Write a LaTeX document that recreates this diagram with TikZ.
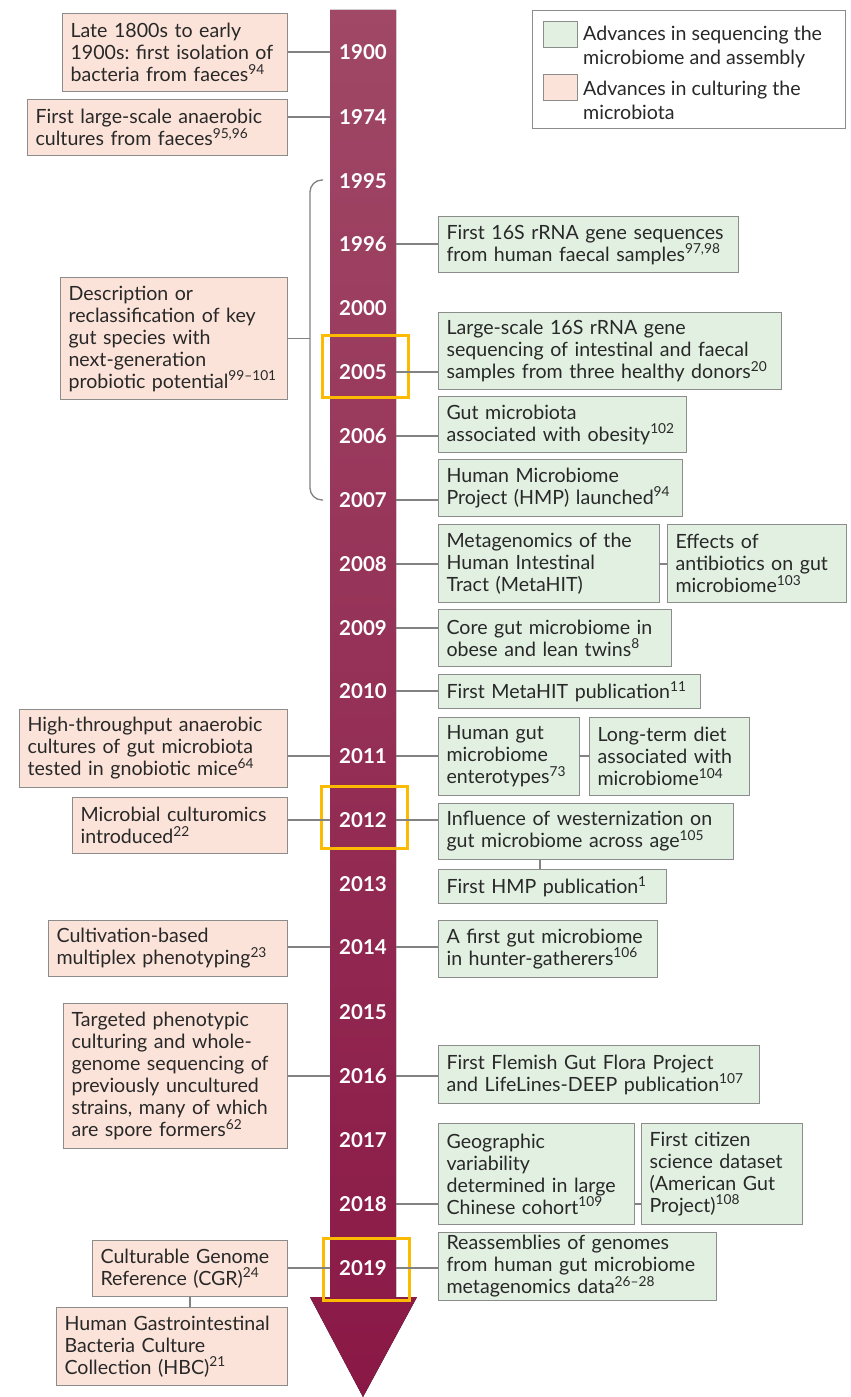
\documentclass[tikz,border=0pt]{standalone}
\usepackage{fontspec}
\setmainfont{Lato}
\frenchspacing
\definecolor{pinkc}{RGB}{252,227,217}
\definecolor{greenc}{RGB}{226,240,226}
\definecolor{bordergray}{RGB}{140,140,140}
\definecolor{linegray}{RGB}{130,130,130}
\definecolor{textc}{RGB}{40,40,40}
\definecolor{orangec}{RGB}{252,186,0}
\definecolor{shafttop}{RGB}{160,72,102}
\definecolor{shaftbot}{RGB}{138,24,70}
\newcommand{\rf}[1]{\textsuperscript{#1}}
\newcommand{\bx}[7]{\pgfmathsetmacro\bxtw{#5-16}\node[#2, minimum width=#5pt, minimum height=#6pt, text width=\bxtw pt] (#1) at (#3,#4) {#7};}
\tikzset{
  box/.style={draw=bordergray, line width=1.1pt, align=left, anchor=north west, inner xsep=8pt, inner ysep=0pt, font=\fontsize{19.6}{22}\selectfont\frenchspacing, text=textc},
  pinkbox/.style={box, fill=pinkc},
  greenbox/.style={box, fill=greenc},
  yr/.style={text=white, font=\bfseries\fontsize{20.5}{24}\selectfont, inner sep=0pt},
  conn/.style={draw=linegray, line width=1.3pt},
  hl/.style={draw=orangec, line width=3pt, minimum width=86pt, minimum height=62pt, inner sep=0pt},
  legtext/.style={anchor=west, align=left, inner sep=0pt, font=\fontsize{19.6}{24}\selectfont, text=textc},
  swatch/.style={draw=bordergray, line width=1pt, anchor=north west, minimum width=34pt, minimum height=26pt, inner sep=0pt},
}
\begin{document}
\begin{tikzpicture}[x=1pt,y=-1pt]
\useasboundingbox[fill=white] (0,0) rectangle (851,1397);
% shaft
\fill[top color=shafttop, bottom color=shaftbot] (330,10) -- (396,10) -- (396,1297) -- (417,1297) -- (363,1397) -- (310,1297) -- (330,1297) -- cycle;
\coordinate (shaftL) at (330,0);
\coordinate (shaftR) at (396,0);
\coordinate (brk) at (310,0);
% years
\node[yr] (y1900) at (363,52) {1900};
\node[yr] (y1974) at (363,117) {1974};
\node[yr] (y1995) at (363,181) {1995};
\node[yr] (y1996) at (363,244) {1996};
\node[yr] (y2000) at (363,308) {2000};
\node[yr] (y2005) at (363,372) {2005};
\node[yr] (y2006) at (363,436) {2006};
\node[yr] (y2007) at (363,500) {2007};
\node[yr] (y2008) at (363,564) {2008};
\node[yr] (y2009) at (363,628) {2009};
\node[yr] (y2010) at (363,691) {2010};
\node[yr] (y2011) at (363,756) {2011};
\node[yr] (y2012) at (363,820) {2012};
\node[yr] (y2013) at (363,884) {2013};
\node[yr] (y2014) at (363,947) {2014};
\node[yr] (y2015) at (363,1012) {2015};
\node[yr] (y2016) at (363,1076) {2016};
\node[yr] (y2017) at (363,1140) {2017};
\node[yr] (y2018) at (363,1204) {2018};
\node[yr] (y2019) at (363,1268) {2019};
% highlights
\node[hl] (h2005) at (365,366) {};
\node[hl] (h2012) at (364,817) {};
\node[hl] (h2019) at (366,1269) {};
% legend
\node[draw=bordergray, line width=1pt, anchor=north west, minimum width=313pt, minimum height=118pt, inner sep=0pt] (legend) at (532,10) {};
\node[swatch, fill=greenc] (sw1) at (543,21) {};
\node[swatch, fill=pinkc] (sw2) at (543,74) {};
\node[legtext] (lt1) at (583,47) {Advances in sequencing the\\microbiome and assembly};
\node[legtext] (lt2) at (583,100) {Advances in culturing the\\microbiota};
% left boxes
\bx{L1}{pinkbox}{62}{13}{225}{78}{Late 1800s to early\\1900s: first isolation of\\bacteria from faeces\rf{94}}
\bx{L2}{pinkbox}{27}{99}{260}{56}{First large-scale anaerobic\\cultures from faeces\rf{95,96}}
\bx{L3}{pinkbox}{60}{277}{227}{122}{Description or\\reclassification of key\\gut species with\\next-generation\\probiotic potential\rf{99–101}}
\bx{L4}{pinkbox}{19}{709}{268}{78}{High-throughput anaerobic\\cultures of gut microbiota\\tested in gnobiotic mice\rf{64}}
\bx{L5}{pinkbox}{72}{797}{215}{56}{Microbial culturomics\\introduced\rf{22}}
\bx{L6}{pinkbox}{48}{920}{239}{56}{Cultivation-based\\multiplex phenotyping\rf{23}}
\bx{L7}{pinkbox}{63}{1003}{224}{145}{Targeted phenotypic\\culturing and whole-\\genome sequencing of\\previously uncultured\\strains, many of which\\are spore formers\rf{62}}
\bx{L8}{pinkbox}{92}{1240}{195}{56}{Culturable Genome\\Reference (CGR)\rf{24}}
\bx{L9}{pinkbox}{56}{1307}{231}{78}{Human Gastrointestinal\\Bacteria Culture\\Collection (HBC)\rf{21}}
% right boxes
\bx{R1}{greenbox}{438}{216}{300}{56}{First 16S rRNA gene sequences\\from human faecal samples\rf{97,98}}
\bx{R2}{greenbox}{438}{312}{343}{77}{Large-scale 16S rRNA gene\\sequencing of intestinal and faecal\\samples from three healthy donors\rf{20}}
\bx{R3}{greenbox}{438}{396}{248}{56}{Gut microbiota\\associated with obesity\rf{102}}
\bx{R4}{greenbox}{438}{459}{244}{57}{Human Microbiome\\Project (HMP) launched\rf{94}}
\bx{R5}{greenbox}{438}{524}{221}{78}{Metagenomics of the\\Human Intestinal\\Tract (MetaHIT)}
\bx{R5b}{greenbox}{667}{524}{179}{78}{Effects of\\antibiotics on gut\\microbiome\rf{103}}
\bx{R6}{greenbox}{438}{609}{233}{57}{Core gut microbiome in\\obese and lean twins\rf{8}}
\bx{R7}{greenbox}{438}{674}{262}{34}{First MetaHIT publication\rf{11}}
\bx{R8}{greenbox}{438}{717}{141}{78}{Human gut\\microbiome\\enterotypes\rf{73}}
\bx{R8b}{greenbox}{589}{717}{160}{78}{Long-term diet\\associated with\\microbiome\rf{104}}
\bx{R9}{greenbox}{438}{803}{295}{56}{Influence of westernization on\\gut microbiome across age\rf{105}}
\bx{R10}{greenbox}{438}{869}{228}{34}{First HMP publication\rf{1}}
\bx{R11}{greenbox}{438}{920}{219}{57}{A first gut microbiome\\in hunter-gatherers\rf{106}}
\bx{R12}{greenbox}{438}{1045}{321}{58}{First Flemish Gut Flora Project\\and LifeLines-DEEP publication\rf{107}}
\bx{R13}{greenbox}{438}{1123}{196}{101}{Geographic\\variability\\determined in large\\Chinese cohort\rf{109}}
\bx{R13b}{greenbox}{641}{1123}{161}{101}{First citizen\\science dataset\\(American Gut\\Project)\rf{108}}
\bx{R14}{greenbox}{438}{1232}{278}{68}{Reassemblies of genomes\\from human gut microbiome\\metagenomics data\rf{26–28}}
% bracket
\draw[conn, rounded corners=12pt] (323,180) -- (310,180) -- (310,500) -- (323,500);
% left connectors
\draw[conn] (y1900 -| L1.east) -- (y1900 -| shaftL);
\draw[conn] (y1974 -| L2.east) -- (y1974 -| shaftL);
\draw[conn] (L3.east) -- (L3.east -| brk);
\draw[conn] (y2011 -| L4.east) -- (y2011 -| shaftL);
\draw[conn] (y2012 -| L5.east) -- (y2012 -| shaftL);
\draw[conn] (y2014 -| L6.east) -- (y2014 -| shaftL);
\draw[conn] (y2016 -| L7.east) -- (y2016 -| shaftL);
\draw[conn] (y2019 -| L8.east) -- (y2019 -| shaftL);
\coordinate (v2) at (190,0);
\draw[conn] (L8.south -| v2) -- (L9.north -| v2);
% right connectors
\draw[conn] (y1996 -| shaftR) -- (y1996 -| R1.west);
\draw[conn] (y2005 -| shaftR) -- (y2005 -| R2.west);
\draw[conn] (y2006 -| shaftR) -- (y2006 -| R3.west);
\draw[conn] (y2007 -| shaftR) -- (y2007 -| R4.west);
\draw[conn] (y2008 -| shaftR) -- (y2008 -| R5.west);
\draw[conn] (y2008 -| R5.east) -- (y2008 -| R5b.west);
\draw[conn] (y2009 -| shaftR) -- (y2009 -| R6.west);
\draw[conn] (y2010 -| shaftR) -- (y2010 -| R7.west);
\draw[conn] (y2011 -| shaftR) -- (y2011 -| R8.west);
\draw[conn] (y2011 -| R8.east) -- (y2011 -| R8b.west);
\draw[conn] (y2012 -| shaftR) -- (y2012 -| R9.west);
\coordinate (v1) at (540,0);
\draw[conn] (R9.south -| v1) -- (R10.north -| v1);
\draw[conn] (y2014 -| shaftR) -- (y2014 -| R11.west);
\draw[conn] (y2016 -| shaftR) -- (y2016 -| R12.west);
\draw[conn] (y2018 -| shaftR) -- (y2018 -| R13.west);
\draw[conn] (y2018 -| R13.east) -- (y2018 -| R13b.west);
\draw[conn] (y2019 -| shaftR) -- (y2019 -| R14.west);
\end{tikzpicture}
\end{document}
